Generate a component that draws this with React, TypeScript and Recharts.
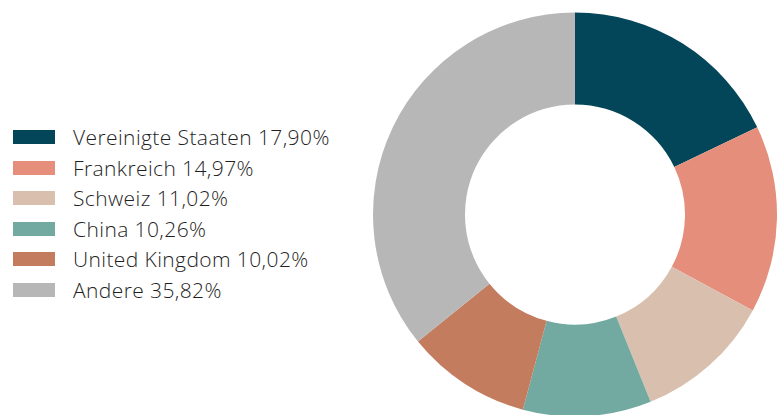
import { Cell, Pie, PieChart } from 'recharts'

const countries = ['Vereinigte Staaten', 'Frankreich', 'Schweiz', 'China', 'United Kingdom', 'Andere']
const shares = [17.9, 14.97, 11.02, 10.26, 10.02, 35.82]
const shareLabels = ['17,90%', '14,97%', '11,02%', '10,26%', '10,02%', '35,82%']
const colors = ['#034659', '#E68E7C', '#D9BFAE', '#72AAA2', '#C47C5F', '#B7B7B7']

const data = countries.map((name, i) => ({ name, value: shares[i] }))

export default function App() {
  return (
    <div style={{ position: 'fixed', left: 0, top: 0, width: 780, height: 415, background: '#fff' }}>
      <PieChart width={780} height={415} margin={{ top: 0, right: 0, bottom: 0, left: 0 }}>
        <Pie
          data={data}
          dataKey="value"
          nameKey="name"
          cx={575}
          cy={214.5}
          innerRadius={110}
          outerRadius={202}
          startAngle={90}
          endAngle={-270}
          stroke="none"
          isAnimationActive={false}
        >
          {data.map((d, i) => (
            <Cell key={d.name} fill={colors[i]} />
          ))}
        </Pie>
      </PieChart>
      <div
        style={{
          position: 'absolute',
          left: 13,
          top: 122,
          fontFamily: '"Open Sans", sans-serif',
          fontWeight: 300,
          fontSize: 21,
          letterSpacing: 0.4,
          color: '#1f1f1f',
        }}
      >
        {countries.map((c, i) => (
          <div key={c} style={{ display: 'flex', alignItems: 'center', height: 30.5 }}>
            <span style={{ width: 42, height: 14, background: colors[i], display: 'inline-block', marginRight: 18 }} />
            <span>{`${c} ${shareLabels[i]}`}</span>
          </div>
        ))}
      </div>
    </div>
  )
}
